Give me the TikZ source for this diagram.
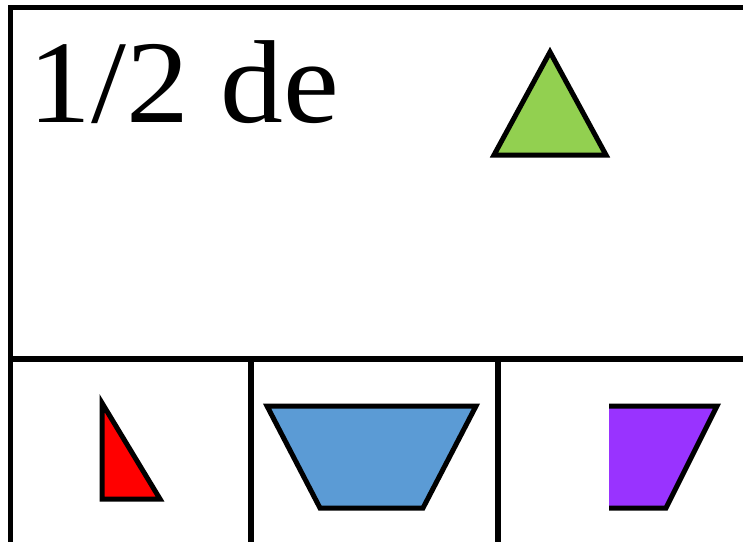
\documentclass[tikz,border=0pt]{standalone}
\usepackage{fontspec}
\setmainfont{Liberation Serif}
\definecolor{shgreen}{HTML}{92D050}
\definecolor{shred}{HTML}{FF0000}
\definecolor{shblue}{HTML}{5B9BD5}
\definecolor{shpurple}{HTML}{9933FF}
\begin{document}
\begin{tikzpicture}[x=1pt,y=-1pt,
  frame/.style={line width=5.5pt},
  figline/.style={line width=5pt,line join=miter}]
\useasboundingbox (0,0) rectangle (743,541);
\clip (0,0) rectangle (743,541);
% frame and grid
\draw[frame] (10.5,7.5) rectangle (748,546);
\draw[frame] (10.5,359) -- (748,359);
\draw[frame] (251,359) -- (251,546);
\draw[frame] (498,359) -- (498,546);
% text
\node[anchor=base west,inner sep=0pt,font=\fontsize{118}{118}\selectfont] (lbl) at (28.5,122) {\scalebox{1.065}[1]{1/2 de}};
% green triangle
\filldraw[figline,fill=shgreen] (550,52) -- (606,155) -- (494,155) -- cycle;
% red triangle
\filldraw[figline,fill=shred] (102,403) -- (160,499) -- (102,499) -- cycle;
% blue trapezoid
\filldraw[figline,fill=shblue] (267,406) -- (476,406) -- (423,508) -- (320,508) -- cycle;
% purple shape (left side without stroke)
\fill[shpurple] (609,406) -- (717,406) -- (666,508) -- (609,508) -- cycle;
\draw[figline] (609,406) -- (717,406) -- (666,508) -- (609,508);
\end{tikzpicture}
\end{document}
